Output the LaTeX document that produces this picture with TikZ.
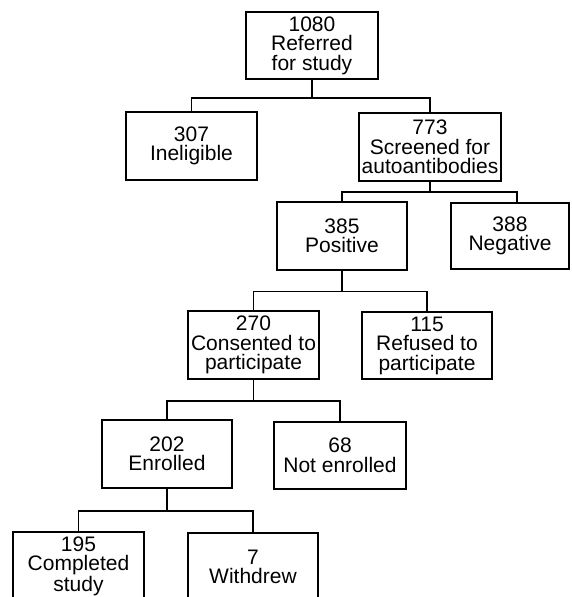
\documentclass[tikz,border=0pt]{standalone}
\usepackage{fontspec}
\setmainfont{Liberation Sans}
\usepackage{tikz}

\tikzset{
    box/.style={draw, line width=1.4pt, align=center, inner sep=0pt,
        minimum width=130pt, minimum height=68pt,
        font=\fontsize{21}{19.5}\selectfont},
    link/.style={line width=1.4pt}
}

\begin{document}
\begin{tikzpicture}[x=1pt, y=-1pt]
    \useasboundingbox (0,0) rectangle (572,597);
    \clip (0,0) rectangle (572,597);

    % boxes
    \node[box, minimum width=132pt, minimum height=67pt] (ref) at (312,45.5) {1080\\Referred\\for study};
    \node[box, minimum width=131pt] (inel) at (191.5,146) {307\\Ineligible};
    \node[box, minimum width=142pt] (scr) at (430,147) {773\\Screened for\\autoantibodies};
    \node[box] (pos) at (342,236) {385\\Positive};
    \node[box, minimum width=118pt, minimum height=66pt] (neg) at (510,236) {388\\Negative};
    \node[box, minimum width=131pt] (cons) at (253.5,345) {270\\Consented to\\participate};
    \node[box, minimum height=67pt] (refu) at (427,345.5) {115\\Refused to\\participate};
    \node[box] (enr) at (167,454) {202\\Enrolled};
    \node[box, minimum width=132pt, minimum height=67pt] (noten) at (340,455.5) {68\\Not enrolled};
    \node[box, minimum width=131pt] (comp) at (78.5,566) {195\\Completed\\study};
    \node[box] (wd) at (253,567) {7\\Withdrew};

    % junctions
    \coordinate (j1) at (312,98);
    \coordinate (j2) at (430,192);
    \coordinate (j3) at (342,291.5);
    \coordinate (j4) at (253.5,401);
    \coordinate (j5) at (167,511);

    % connectors
    \draw[link] (ref) -- (j1);
    \draw[link] (inel.north) |- (j1) -| (scr.north);
    \draw[link] (scr) -- (j2);
    \draw[link] (pos.north) |- (j2) -| ([xshift=7pt]neg.north);
    \draw[link] (pos) -- (j3);
    \draw[link] (cons.north) |- (j3) -| (refu.north);
    \draw[link] (cons) -- (j4);
    \draw[link] (enr.north) |- (j4) -| (noten.north);
    \draw[link] (enr) -- (j5);
    \draw[link] (comp.north) |- (j5) -| (wd.north);
\end{tikzpicture}
\end{document}
